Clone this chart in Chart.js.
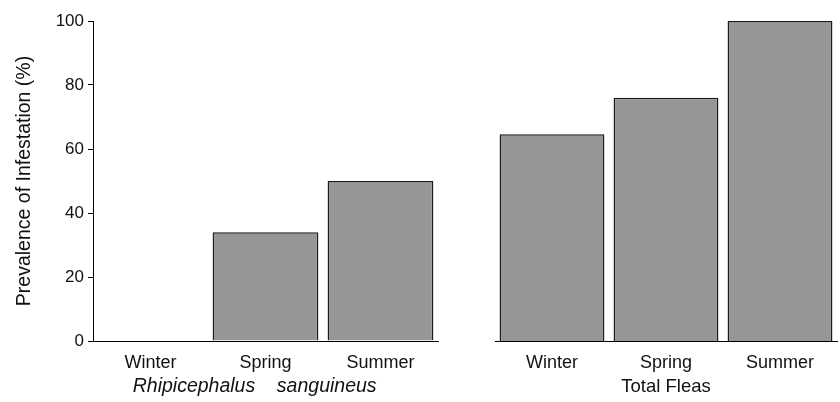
<!DOCTYPE html>
<html>
<head>
<meta charset="utf-8">
<script src="https://cdn.jsdelivr.net/npm/chart.js@4/dist/chart.umd.min.js"></script>
<style>
  html, body { margin: 0; padding: 0; background: #fff; }
  #wrap { position: relative; width: 840px; height: 402px; overflow: hidden; }
  .panel { position: absolute; top: 0; height: 402px; }
  #left { left: 0; width: 440px; }
  #right { left: 490px; width: 350px; }
</style>
</head>
<body>
<div id="wrap">
  <div class="panel" id="left"><canvas id="c1" width="440" height="402"></canvas></div>
  <div class="panel" id="right"><canvas id="c2" width="350" height="402"></canvas></div>
</div>
<script>
// Seasons on the category axis
const seasons = ['Winter', 'Spring', 'Summer'];
// Prevalence of infestation (%) per season
const ticksPrevalence = [0, 34, 50];      // Rhipicephalus sanguineus
const fleasPrevalence = [64.6, 76, 100];  // Total fleas
const yTicks = [0, 20, 40, 60, 80, 100];

// trailing spaces nudge the centred species name a little to the left
const groupTitleTicks = 'Rhipicephalus    sanguineus    ';
const groupTitleFleas = 'Total Fleas';
const yTitle = 'Prevalence of Infestation (%)';

const FONT = '"Liberation Sans", Arial, Helvetica, sans-serif';
const TXT = '#111111';

function barDataset(values) {
  return {
    data: values,
    backgroundColor: '#969696',
    borderColor: '#1c1c1c',
    borderWidth: 1.5,
    borderSkipped: 'start',
    categoryPercentage: 1,
    barPercentage: 0.92
  };
}

function xScale(title, italic) {
  return {
    type: 'category',
    grid: { display: false, drawTicks: false },
    border: { display: true, color: '#000', width: 1 },
    ticks: { color: TXT, font: { family: FONT, size: 18 }, padding: 11, maxRotation: 0 },
    title: {
      display: true, text: title, color: TXT,
      font: { family: FONT, size: italic ? 19.5 : 18.5, style: italic ? 'italic' : 'normal' },
      padding: { top: 0, bottom: 4 }
    },
    afterFit(s) { s.height = 61; }
  };
}

function yScale(visible) {
  const s = {
    display: visible,
    min: 0, max: 100,
    afterBuildTicks(sc) { sc.ticks = yTicks.map(v => ({ value: v })); },
    grid: { drawOnChartArea: false, drawTicks: true, tickLength: 5, color: '#000' },
    border: { display: true, color: '#000', width: 1 },
    ticks: { color: TXT, font: { family: FONT, size: 17 }, padding: 4 },
    title: {
      display: true, text: yTitle, color: TXT,
      font: { family: FONT, size: 19.5 },
      padding: { top: 13, bottom: 0 }
    }
  };
  if (visible) s.afterFit = sc => { sc.width = 93; };
  return s;
}

function makeChart(id, values, title, italic, showY, padding) {
  return new Chart(document.getElementById(id), {
    type: 'bar',
    data: { labels: seasons, datasets: [barDataset(values)] },
    options: {
      responsive: false,
      animation: false,
      devicePixelRatio: 1,
      layout: { padding },
      plugins: { legend: { display: false }, tooltip: { enabled: false } },
      scales: { x: xScale(title, italic), y: yScale(showY) }
    }
  });
}

makeChart('c1', ticksPrevalence, groupTitleTicks, true, true, { top: 21, left: 0, right: 2, bottom: 0 });
makeChart('c2', fleasPrevalence, groupTitleFleas, false, false, { top: 21, left: 5, right: 3, bottom: 0 });
</script>
</body>
</html>
